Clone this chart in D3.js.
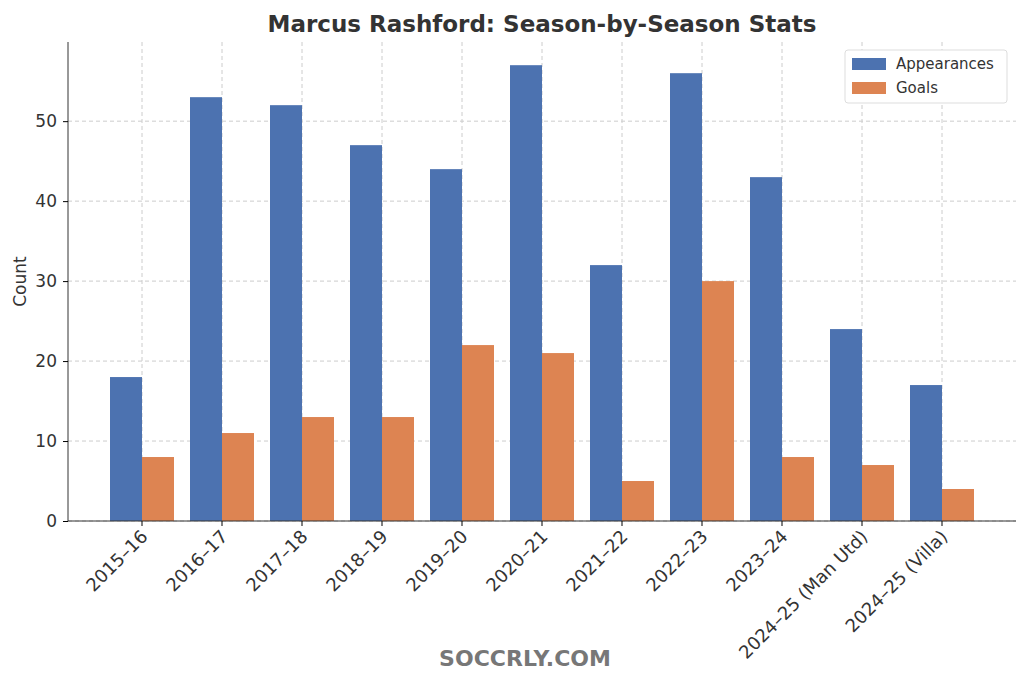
<!DOCTYPE html><html><head><meta charset="utf-8"><script src="https://cdn.jsdelivr.net/npm/d3@7"></script>
<style>body{margin:0;background:#fff}text{font-family:"DejaVu Sans",sans-serif}</style></head><body>
<svg id="c" width="1024" height="683"></svg>
<script>
const seasons=["2015–16","2016–17","2017–18","2018–19","2019–20","2020–21","2021–22","2022–23","2023–24","2024–25 (Man Utd)","2024–25 (Villa)"];
const appearances=[18,53,52,47,44,57,32,56,43,24,17];
const goals=[8,11,13,13,22,21,5,30,8,7,4];
const yTicks=[0,10,20,30,40,50];
const svg=d3.select("#c");
const L=68,R=1016,T=42,B=521;
const x=d3.scaleBand().domain(seasons).range([102,982]).paddingInner(0.2).paddingOuter(0.1);
const y=d3.scaleLinear().domain([0,59.9]).range([B,T]);
const g=svg.append("g");
g.selectAll(".hg").data(yTicks).join("line").attr("x1",L).attr("x2",R).attr("y1",d=>y(d)).attr("y2",d=>y(d)).attr("stroke","#ccc").attr("stroke-dasharray","4,3");
g.selectAll(".vg").data(seasons).join("line").attr("x1",d=>x(d)+x.bandwidth()/2).attr("x2",d=>x(d)+x.bandwidth()/2).attr("y1",T).attr("y2",B).attr("stroke","#ccc").attr("stroke-dasharray","4,3");
const bw=x.bandwidth()/2;
g.selectAll(".a").data(appearances).join("rect").attr("x",(d,i)=>x(seasons[i])).attr("y",d=>y(d)).attr("width",bw).attr("height",d=>B-y(d)).attr("fill","#4c72b0");
g.selectAll(".g").data(goals).join("rect").attr("x",(d,i)=>x(seasons[i])+bw).attr("y",d=>y(d)).attr("width",bw).attr("height",d=>B-y(d)).attr("fill","#dd8452");
const ya=svg.append("g").attr("transform",`translate(${L},0)`).call(d3.axisLeft(y).tickValues(yTicks).tickSize(5).tickPadding(6));
ya.select(".domain").attr("d",`M0,${T}V${B}`).attr("stroke","#333");
ya.selectAll("text").attr("font-size",17).attr("fill","#333");
const xa=svg.append("g").attr("transform",`translate(0,${B})`).call(d3.axisBottom(x).tickSize(5).tickPadding(4));
xa.select(".domain").attr("d",`M${L},0H${R}`).attr("stroke","#333");
xa.selectAll("text").attr("font-size",18).attr("fill","#333").attr("text-anchor","end").attr("dy","0.5em").attr("transform","translate(-6,4) rotate(-45)");
svg.append("text").attr("transform",`translate(26,${(T+B)/2}) rotate(-90)`).attr("text-anchor","middle").attr("font-size",17).attr("fill","#333").text("Count");
svg.append("text").attr("x",542).attr("y",32).attr("text-anchor","middle").attr("font-size",23).attr("font-weight","bold").attr("fill","#333").text("Marcus Rashford: Season-by-Season Stats");
const lg=svg.append("g");
lg.append("rect").attr("x",845).attr("y",50).attr("width",162).attr("height",53).attr("rx",3).attr("fill","#fff").attr("stroke","#ddd");
[["Appearances","#4c72b0"],["Goals","#dd8452"]].forEach(([t,c],i)=>{
lg.append("rect").attr("x",852).attr("y",58+i*24).attr("width",34).attr("height",12).attr("fill",c);
lg.append("text").attr("x",896).attr("y",69+i*24).attr("font-size",15).attr("fill","#333").text(t);});
svg.append("text").attr("x",525).attr("y",666).attr("text-anchor","middle").attr("font-size",22).attr("font-weight","bold").attr("fill","#777").attr("font-family","Lato, sans-serif").text("SOCCRLY.COM");
</script></body></html>
